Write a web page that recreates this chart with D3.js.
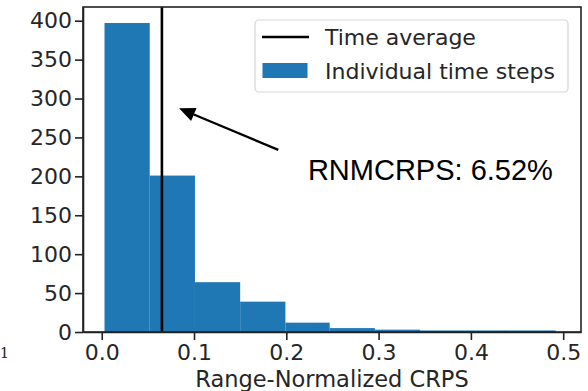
<!DOCTYPE html>
<html>
<head>
<meta charset="utf-8">
<script src="https://cdn.jsdelivr.net/npm/d3@7/dist/d3.min.js"></script>
<style>
  body { margin: 0; background: #fff; }
  svg { display: block; font-family: "DejaVu Sans", sans-serif; }
  .axis path, .axis line { stroke: #222; stroke-width: 1.6; }
  .axis text { font-size: 22px; fill: #262626; font-family: "DejaVu Sans", sans-serif; }
</style>
</head>
<body>
<svg id="chart" width="588" height="391"></svg>
<script>
// histogram bins (Range-Normalized CRPS) and counts
var binEdges = [0.003, 0.052, 0.101, 0.150, 0.199, 0.247, 0.296, 0.345, 0.394, 0.443, 0.492];
var binCounts = [397, 201, 64, 39, 12, 5, 3, 2, 2, 2];
var timeAverage = 0.0652;
var xTicks = [0.0, 0.1, 0.2, 0.3, 0.4, 0.5];
var yTicks = [0, 50, 100, 150, 200, 250, 300, 350, 400];
var legendLabels = ["Time average", "Individual time steps"];
var annotationText = "RNMCRPS: 6.52%";

var svg = d3.select("svg#chart"),
    margin = {top: 7, right: 7, bottom: 59, left: 83},
    width = +svg.attr("width") - margin.left - margin.right,
    height = +svg.attr("height") - margin.top - margin.bottom,
    g = svg.append("g").attr("transform", "translate(" + margin.left + "," + margin.top + ")");

var x = d3.scaleLinear().domain([-0.0203, 0.5193]).range([0, width]);
var y = d3.scaleLinear().domain([0, 417.6]).range([height, 0]);

var bins = binCounts.map(function(c, i) { return {x0: binEdges[i], x1: binEdges[i + 1], count: c}; });

g.append("g")
  .selectAll("rect")
  .data(bins)
  .enter().append("rect")
    .attr("x", function(d) { return x(d.x0); })
    .attr("y", function(d) { return y(d.count); })
    .attr("width", function(d) { return x(d.x1) - x(d.x0); })
    .attr("height", function(d) { return height - y(d.count); })
    .attr("fill", "#1f77b4");

// time average line
g.append("line")
    .attr("x1", x(timeAverage)).attr("x2", x(timeAverage))
    .attr("y1", 0).attr("y2", height)
    .attr("stroke", "#000")
    .attr("stroke-width", 2.6);

// axes
g.append("g")
    .attr("class", "axis")
    .attr("transform", "translate(0," + height + ")")
    .call(d3.axisBottom(x).tickValues(xTicks).tickFormat(d3.format(".1f")).tickSizeOuter(0).tickSizeInner(8).tickPadding(4));

g.append("g")
    .attr("class", "axis")
    .call(d3.axisLeft(y).tickValues(yTicks).tickFormat(d3.format("d")).tickSizeOuter(0).tickSizeInner(8).tickPadding(3));

// frame (all four spines)
g.append("rect")
    .attr("width", width).attr("height", height)
    .attr("fill", "none")
    .attr("stroke", "#222")
    .attr("stroke-width", 1.6);

g.append("text")
    .attr("x", width / 2)
    .attr("y", height + 55)
    .attr("text-anchor", "middle")
    .attr("font-size", 22.5)
    .attr("fill", "#262626")
    .text("Range-Normalized CRPS");

// annotation arrow
var tip = [x(0.0838), y(287.5)], tail = [x(0.1913), y(234)];
var dx = tip[0] - tail[0], dy = tip[1] - tail[1], len = Math.sqrt(dx * dx + dy * dy);
var ux = dx / len, uy = dy / len, headLen = 16, headW = 7;
var base = [tip[0] - headLen * ux, tip[1] - headLen * uy];
g.append("line")
    .attr("x1", tail[0]).attr("y1", tail[1])
    .attr("x2", base[0]).attr("y2", base[1])
    .attr("stroke", "#000").attr("stroke-width", 2.2);
g.append("polygon")
    .attr("points", [tip, [base[0] - headW * uy, base[1] + headW * ux], [base[0] + headW * uy, base[1] - headW * ux]].map(function(p) { return p.join(","); }).join(" "))
    .attr("fill", "#000");

g.append("text")
    .attr("x", x(0.2234))
    .attr("y", y(195.5))
    .attr("font-family", "Liberation Sans, Arial, sans-serif")
    .attr("font-size", 29)
    .attr("fill", "#000")
    .text(annotationText);

// legend
var legend = g.append("g").attr("transform", "translate(" + (255 - margin.left) + "," + (20 - margin.top) + ")");
legend.append("rect")
    .attr("width", 313).attr("height", 72)
    .attr("rx", 4)
    .attr("fill", "#fff").attr("fill-opacity", 0.8)
    .attr("stroke", "#d6d6d6").attr("stroke-width", 1.2);
legend.append("line")
    .attr("x1", 7).attr("x2", 54).attr("y1", 17).attr("y2", 17)
    .attr("stroke", "#000").attr("stroke-width", 2.6);
legend.append("rect")
    .attr("x", 7.5).attr("y", 43).attr("width", 45).attr("height", 15)
    .attr("fill", "#1f77b4");
legend.selectAll("text.lab")
  .data(legendLabels)
  .enter().append("text")
    .attr("class", "lab")
    .attr("x", 70)
    .attr("y", function(d, i) { return 25 + i * 34; })
    .attr("font-size", 22)
    .attr("fill", "#262626")
    .text(function(d) { return d; });

// character left over from a neighbouring panel
svg.append("text")
    .attr("x", 0).attr("y", 358)
    .attr("text-anchor", "start")
    .attr("font-family", "DejaVu Serif, serif")
    .attr("font-size", 14)
    .attr("fill", "#222")
    .text("1");
</script>
</body>
</html>
